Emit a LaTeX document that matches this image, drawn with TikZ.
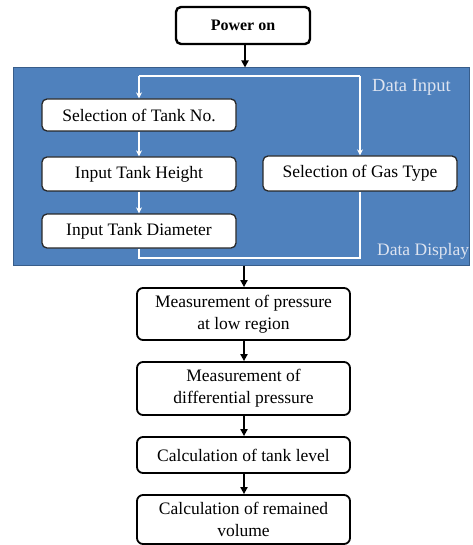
\documentclass[tikz,border=0pt]{standalone}
\usepackage{fontspec}
\setmainfont{Liberation Serif}
\usetikzlibrary{arrows.meta,positioning}
\definecolor{panelblue}{RGB}{79,129,189}
\definecolor{paneledge}{RGB}{56,93,138}
\definecolor{labelwhite}{RGB}{222,228,240}
\definecolor{innerdraw}{RGB}{40,40,40}
\begin{document}
\begin{tikzpicture}[x=1pt,y=-1pt,
  txt/.style={font=\fontsize{17.5}{22}\selectfont, align=center, inner sep=0pt},
  powerbox/.style={draw=black, line width=2.4pt, rounded corners=5pt, fill=white,
    minimum width=134pt, minimum height=37pt, inner sep=0pt,
    font=\fontsize{16}{19}\selectfont\bfseries},
  inbox/.style={txt, draw=innerdraw, line width=1.3pt, rounded corners=5pt, fill=white,
    minimum width=194pt},
  stepbox/.style={txt, draw=black, line width=1.8pt, rounded corners=6pt, fill=white,
    minimum width=213pt},
  panel/.style={draw=paneledge, line width=1pt, fill=panelblue, inner sep=0pt,
    minimum width=456pt, minimum height=197pt},
  blackarrow/.style={draw=black, line width=2pt, -{Triangle[length=7pt,width=7pt]}},
  whitearrow/.style={draw=white, line width=1.1pt, -{Stealth[length=6pt,width=6pt]}},
  whiteline/.style={draw=white, line width=1.1pt},
  paneltext/.style={font=\fontsize{17.5}{22}\selectfont, text=labelwhite, inner sep=0pt, anchor=west}
]
\useasboundingbox (0,0) rectangle (472,545);

\node[panel] (panel) at (241,166.5) {};

\node[powerbox] (power) at (243,25.5) {Power on};

\node[inbox, minimum height=32pt] (tankno) at (139,115) {Selection of Tank No.};
\node[inbox, minimum height=34pt] (height) at (139,174) {Input Tank Height};
\node[inbox, minimum height=35pt] (gas) at (360,173.5) {Selection of Gas Type};
\node[inbox, minimum height=34pt] (diam) at (139,231) {Input Tank Diameter};

\node[paneltext, font=\fontsize{18.5}{22}\selectfont] (din) at (372,87) {Data Input};
\node[paneltext] (ddisp) at (377,251) {Data Display};

\node[stepbox, minimum height=52pt] (m1) at (243.5,314) {Measurement of pressure\\at low region};
\node[stepbox, minimum height=53pt] (m2) at (243.5,388.5) {Measurement of\\differential pressure};
\node[stepbox, minimum height=36pt] (c1) at (243.5,455) {Calculation of tank level};
\node[stepbox, minimum height=49pt] (c2) at (243.5,519.5) {Calculation of remained\\volume};

\coordinate (tl) at (tankno.north |- 0,76);
\coordinate (tr) at (gas.north |- 0,76);
\coordinate (bl) at (diam.south |- 0,258);
\coordinate (br) at (gas.south |- 0,258);

\draw[whitearrow] (tl) -- (tankno.north);
\draw[whiteline] (tl) -- (tr);
\draw[whitearrow] (tr) -- (gas.north);
\draw[whitearrow] (tankno) -- (height);
\draw[whitearrow] (height) -- (diam);
\draw[whiteline] (diam.south) -- (bl) -- (br) -- (gas.south);

\draw[blackarrow] (power.south -| 245,0) -- (245,0 |- panel.north);
\draw[blackarrow] (244,0 |- panel.south) -- (244,0 |- m1.north);
\draw[blackarrow] (244,0 |- m1.south) -- (244,0 |- m2.north);
\draw[blackarrow] (244,0 |- m2.south) -- (244,0 |- c1.north);
\draw[blackarrow] (244,0 |- c1.south) -- (244,0 |- c2.north);
\end{tikzpicture}
\end{document}
